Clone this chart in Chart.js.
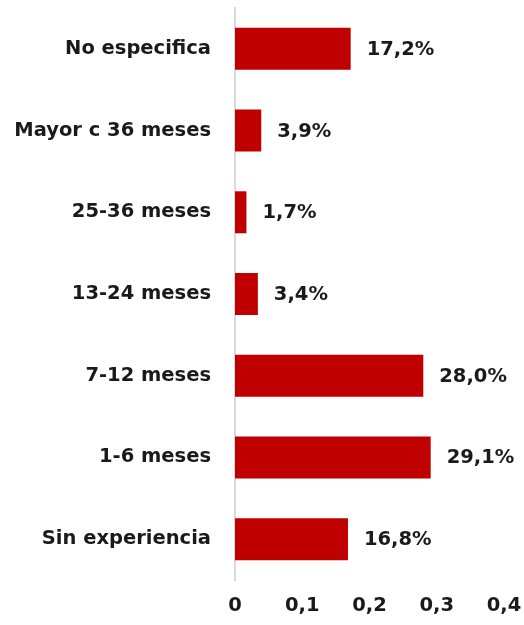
<!DOCTYPE html>
<html>
<head>
<meta charset="utf-8">
<script src="https://cdn.jsdelivr.net/npm/chart.js@4/dist/chart.umd.min.js"></script>
<style>
html,body{margin:0;padding:0;background:#fff;}
#wrap{width:524px;height:625px;position:relative;}
</style>
</head>
<body>
<div id="wrap"><canvas id="c" width="524" height="625"></canvas></div>
<script>
const categories = ["No especifica","Mayor c 36 meses","25-36 meses","13-24 meses","7-12 meses","1-6 meses","Sin experiencia"];
const values = [0.172,0.039,0.017,0.034,0.280,0.291,0.168];
const valueLabels = ["17,2%","3,9%","1,7%","3,4%","28,0%","29,1%","16,8%"];
const xTicks = [0,0.1,0.2,0.3,0.4];
const xTickLabels = ["0","0,1","0,2","0,3","0,4"];

const FONT = {family:"'DejaVu Sans'", size:19.5, weight:'bold'};

const valueLabelPlugin = {
  id:'valueLabels',
  afterDatasetsDraw(chart){
    const ctx = chart.ctx;
    const meta = chart.getDatasetMeta(0);
    ctx.save();
    ctx.font = `${FONT.weight} ${FONT.size}px ${FONT.family}`;
    ctx.fillStyle = '#1a1a1a';
    ctx.textAlign = 'left';
    ctx.textBaseline = 'middle';
    meta.data.forEach((bar,i)=>{
      ctx.fillText(valueLabels[i], bar.x + 16, bar.y + 1);
    });
    ctx.restore();
  }
};

new Chart(document.getElementById('c'),{
  type:'bar',
  data:{
    labels:categories,
    datasets:[{
      data:values,
      backgroundColor:'#C00000',
      borderWidth:0,
      barPercentage:0.514,
      categoryPercentage:1
    }]
  },
  options:{
    indexAxis:'y',
    responsive:false,
    animation:false,
    layout:{padding:{top:8,right:20,left:0,bottom:0}},
    plugins:{legend:{display:false},tooltip:{enabled:false}},
    scales:{
      x:{
        min:0,max:0.4,
        afterBuildTicks(scale){ scale.ticks = xTicks.map(v=>({value:v})); },
        afterFit(scale){ scale.height = 45; scale.paddingLeft = 0; scale.paddingRight = 0; },
        grid:{display:false,drawTicks:false},
        border:{display:false},
        ticks:{
          padding:14,
          color:'#1a1a1a',
          font:FONT,
          callback:(v,i)=>xTickLabels[i]
        }
      },
      y:{
        afterFit(scale){ scale.width = 235; scale.paddingTop = 0; scale.paddingBottom = 0; },
        grid:{display:false,drawTicks:false},
        border:{display:true,color:'#d9d9d9',width:2},
        ticks:{padding:24,color:'#1a1a1a',font:FONT}
      }
    }
  },
  plugins:[valueLabelPlugin]
});
</script>
</body>
</html>
